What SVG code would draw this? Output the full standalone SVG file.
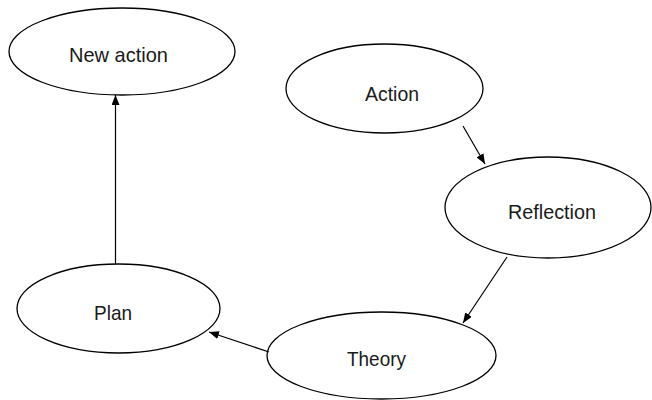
<svg xmlns="http://www.w3.org/2000/svg" width="652" height="400" viewBox="0 0 652 400">
<style>
.n{fill:#fff;stroke:#000;stroke-width:1.3}
.t{font-family:"Liberation Sans",Arial,sans-serif;font-size:21px;fill:#1a1a1a;text-anchor:middle}
.c{stroke:#000;stroke-width:1.2;fill:none;marker-end:url(#ah)}
</style>
<defs>
<marker id="ah" viewBox="0 0 10 8" refX="10" refY="4" markerWidth="10" markerHeight="8" markerUnits="userSpaceOnUse" orient="auto">
<path d="M0,0 L10,4 L0,8 Z" fill="#000"/>
</marker>
</defs>
<rect width="652" height="400" fill="#fff"/>
<g id="new-action"><ellipse class="n" cx="122" cy="51.5" rx="113" ry="43.5"/><text class="t" x="118.5" y="62" textLength="99" lengthAdjust="spacingAndGlyphs">New action</text></g>
<g id="action"><ellipse class="n" cx="384.5" cy="88.5" rx="98.5" ry="44.5"/><text class="t" x="392" y="101" textLength="54" lengthAdjust="spacingAndGlyphs">Action</text></g>
<g id="reflection"><ellipse class="n" cx="548" cy="207.5" rx="103" ry="50.5"/><text class="t" x="552" y="219" textLength="88" lengthAdjust="spacingAndGlyphs">Reflection</text></g>
<g id="plan"><ellipse class="n" cx="118.5" cy="308.5" rx="101.5" ry="44.5"/><text class="t" x="113" y="320" textLength="38" lengthAdjust="spacingAndGlyphs">Plan</text></g>
<g id="theory"><ellipse class="n" cx="381.5" cy="355.5" rx="114.5" ry="43.5"/><text class="t" x="376.5" y="366" textLength="59" lengthAdjust="spacingAndGlyphs">Theory</text></g>
<g id="connectors">
<line class="c" x1="115.5" y1="264" x2="115.5" y2="95"/>
<line class="c" x1="463" y1="126" x2="485" y2="164"/>
<line class="c" x1="507" y1="257" x2="463" y2="323"/>
<line class="c" x1="269" y1="352" x2="209" y2="332"/>
</g>
</svg>
